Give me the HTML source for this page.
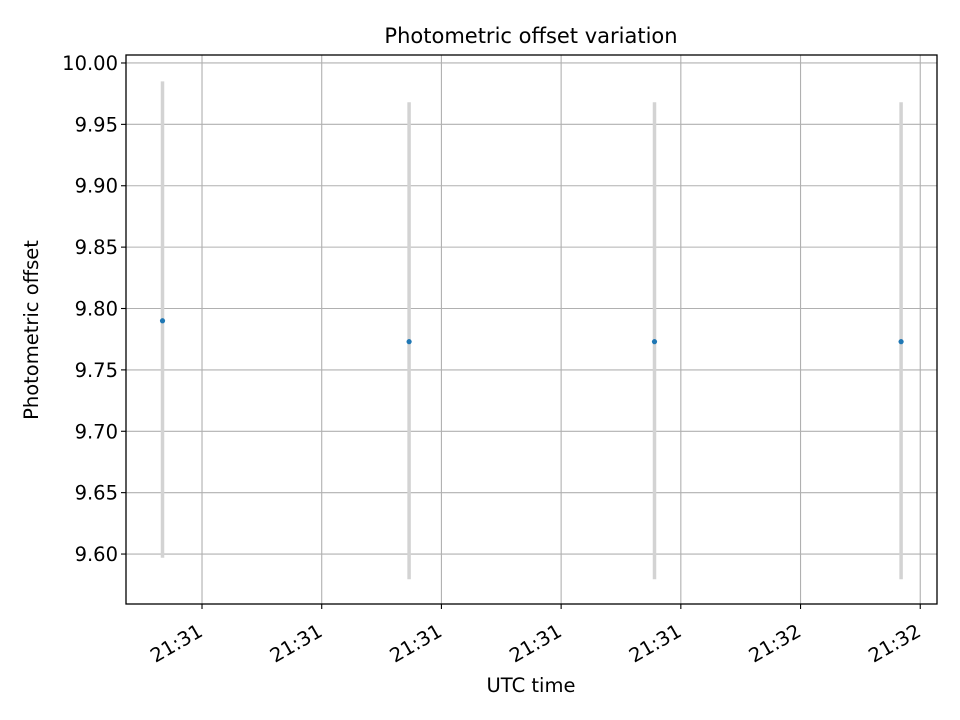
<!DOCTYPE html>
<html><head><meta charset="utf-8"><style>
body{margin:0;background:#fff;}
svg{display:block;font-family:"DejaVu Sans","Liberation Sans",sans-serif;}
</style></head><body>
<svg id="chart" width="960" height="720" viewBox="0 0 960 720">
<rect width="960" height="720" fill="#fff"/>
<g id="grid"></g>
<g id="bars"></g>
<g id="pts"></g>
<rect x="126" y="55" width="811" height="549" fill="none" stroke="#000" stroke-width="1.3"/>
<g id="ticks"></g>
<text x="531" y="43" text-anchor="middle" font-size="21">Photometric offset variation</text>
<text x="531" y="692" text-anchor="middle" font-size="19.5">UTC time</text>
<text transform="translate(38,330) rotate(-90)" text-anchor="middle" font-size="19.5">Photometric offset</text>
</svg>
<script>
// seconds after 21:31:00
const times=[6.7,27.3,47.8,68.4];
const offsets=[9.790,9.773,9.773,9.773];
const errLow=[9.597,9.5795,9.5795,9.5795];
const errHigh=[9.985,9.968,9.968,9.968];
const yTicks=[9.60,9.65,9.70,9.75,9.80,9.85,9.90,9.95,10.00];
const xTicks=[10,20,30,40,50,60,70];
const xTickLabels=["21:31","21:31","21:31","21:31","21:31","21:32","21:32"];
const xMin=3.65,xMax=71.4,yMin=9.5593,yMax=10.0065;
const L=126,R=937,T=55,B=604;
const sx=v=>L+(v-xMin)/(xMax-xMin)*(R-L);
const sy=v=>B-(v-yMin)/(yMax-yMin)*(B-T);
const NS="http://www.w3.org/2000/svg";
function mk(tag,attrs,parent){const e=document.createElementNS(NS,tag);for(const k in attrs)e.setAttribute(k,attrs[k]);document.getElementById(parent).appendChild(e);return e;}
yTicks.forEach(v=>{const y=sy(v);
 const g=mk('line',{x1:L,x2:R,y1:y,y2:y,stroke:'#b0b0b0','stroke-width':1.1},'grid');
 
 
 const t=mk('line',{x1:L-5,x2:L,y1:y,y2:y,stroke:'#000','stroke-width':1.1},'ticks');
 
 
 const l=mk('text',{x:L-8,y:y+7,'text-anchor':'end','font-size':19.5},'ticks');
 l.textContent=v.toFixed(2);
 
 
});
xTicks.forEach((v,i)=>{const x=sx(v);
 const g=mk('line',{x1:x,x2:x,y1:T,y2:B,stroke:'#b0b0b0','stroke-width':1.1},'grid');
 
 
 const t=mk('line',{x1:x,x2:x,y1:B,y2:B+5,stroke:'#000','stroke-width':1.1},'ticks');
 
 
 const l=mk('text',{x:x+2,y:B+31,'text-anchor':'end','font-size':19.5,transform:`rotate(-30 ${x+2} ${B+31})`},'ticks');
 l.textContent=xTickLabels[i];
 
 
});
times.forEach((t,i)=>{const x=sx(t);
 const b=mk('line',{x1:x,x2:x,y1:sy(errLow[i]),y2:sy(errHigh[i]),stroke:'#d3d3d3','stroke-width':3.5},'bars');
 
 
 const c=mk('circle',{cx:x,cy:sy(offsets[i]),r:2.6,fill:'#1f77b4'},'pts');
 
 
});
</script>
</body></html>
